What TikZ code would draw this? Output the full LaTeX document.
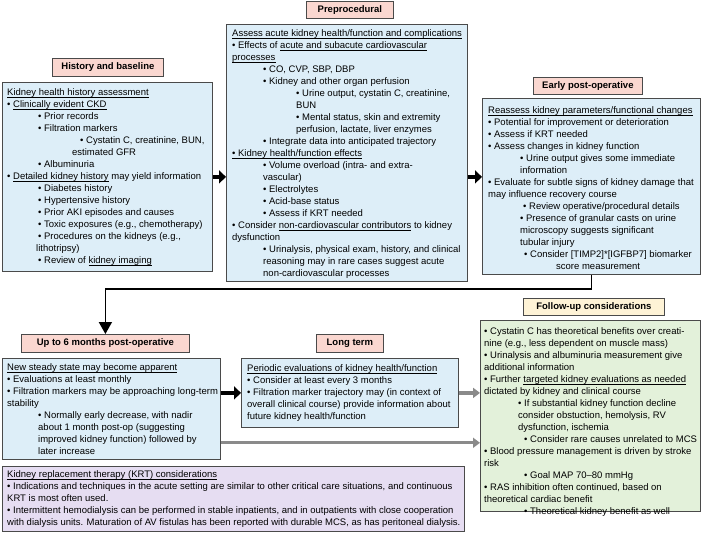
\documentclass[tikz,border=0pt]{standalone}
\usepackage{fontspec}
\setmainfont{Liberation Sans}
\usetikzlibrary{arrows.meta,calc}
\definecolor{boxblue}{HTML}{DDEEF8}
\definecolor{hdrpink}{HTML}{FAD7D0}
\definecolor{hdryellow}{HTML}{FEF3D6}
\definecolor{boxgreen}{HTML}{E3F1DA}
\definecolor{boxpurple}{HTML}{E6DDF2}
\definecolor{edgegray}{HTML}{4A4A4A}
\definecolor{arrgray}{HTML}{8A8A8A}
\newcommand{\bu}{•\ }
\newcommand{\ind}[1]{\hspace*{#1pt}}
\newsavebox{\ulbox}
\newcommand{\ulx}[1]{\sbox{\ulbox}{#1}\rlap{\rule[-1.7pt]{\wd\ulbox}{0.45pt}}\usebox{\ulbox}}
\begin{document}
\begin{tikzpicture}[x=1pt,y=-1pt,
  panel/.style={draw=edgegray, line width=0.8pt, anchor=north west, inner sep=0pt},
  bluebox/.style={panel, fill=boxblue},
  hdr/.style={panel, fill=hdrpink, font=\fontsize{9.5}{12}\selectfont\bfseries},
  body/.style={anchor=north west, inner sep=0pt, align=left, font=\fontsize{9.5}{12}\selectfont},
  blkarrow/.style={line width=4.5pt, -{Triangle[length=7pt,width=13pt]}},
  connector/.style={line width=1.8pt, -{Triangle[length=12pt,width=13pt]}},
  grayarrow/.style={draw=arrgray, line width=3.2pt, -{Triangle[length=7pt,width=10pt]}}
]
\useasboundingbox (0,0) rectangle (701,533);

% headers
\node[hdr, minimum width=111pt, minimum height=18pt] (histhdr) at (52,58) {History and baseline};
\node[hdr, minimum width=87pt, minimum height=17pt] (prehdr) at (306,1) {Preprocedural};
\node[hdr, minimum width=109pt, minimum height=17pt] (earlyhdr) at (533,77) {Early post-operative};
\node[hdr, minimum width=168pt, minimum height=18pt] (sixhdr) at (21,334) {Up to 6 months post-operative};
\node[hdr, minimum width=67pt, minimum height=18pt] (longhdr) at (316,334) {Long term};
\node[hdr, fill=hdryellow, minimum width=141pt, minimum height=17pt] (followhdr) at (523,298) {Follow-up considerations};

% boxes
\node[bluebox, minimum width=210pt, minimum height=189pt] (histbox) at (2,82) {};
\node[bluebox, minimum width=241pt, minimum height=257pt] (prebox) at (226,24) {};
\node[bluebox, minimum width=218pt, minimum height=176pt] (earlybox) at (482,98) {};
\node[bluebox, minimum width=218pt, minimum height=101pt] (sixbox) at (2,358) {};
\node[bluebox, minimum width=217pt, minimum height=69pt] (longbox) at (241,358) {};
\node[panel, fill=boxgreen, minimum width=220pt, minimum height=191pt] (followbox) at (480,320) {};
\node[panel, fill=boxpurple, minimum width=462pt, minimum height=65pt] (krtbox) at (2,466) {};

% texts
\node[body] (histtxt) at (7,87) {\strut\ulx{Kidney health history assessment}\\
\bu\ulx{Clinically evident CKD}\\
\ind{31}\bu Prior records\\
\ind{31}\bu Filtration markers\\
\ind{73}\bu Cystatin C, creatinine, BUN,\\
\ind{65}estimated GFR\\
\ind{31}\bu Albuminuria\\
\bu\ulx{Detailed kidney history} may yield information\\
\ind{31}\bu Diabetes history\\
\ind{31}\bu Hypertensive history\\
\ind{31}\bu Prior AKI episodes and causes\\
\ind{31}\bu Toxic exposures (e.g., chemotherapy)\\
\ind{31}\bu Procedures on the kidneys (e.g.,\\
\ind{29}lithotripsy)\\
\ind{31}\bu Review of \ulx{kidney imaging}};

\node[body] (pretxt) at (232,28) {\strut\ulx{Assess acute kidney health/function and complications}\\
\bu Effects of \ulx{acute and subacute cardiovascular}\\
\ulx{processes}\\
\ind{31}\bu CO, CVP, SBP, DBP\\
\ind{31}\bu Kidney and other organ perfusion\\
\ind{64}\bu Urine output, cystatin C, creatinine,\\
\ind{64}BUN\\
\ind{64}\bu Mental status, skin and extremity\\
\ind{64}perfusion, lactate, liver enzymes\\
\ind{31}\bu Integrate data into anticipated trajectory\\
\ulx{\bu Kidney health/function effects}\\
\ind{31}\bu Volume overload (intra- and extra-\\
\ind{31}vascular)\\
\ind{31}\bu Electrolytes\\
\ind{31}\bu Acid-base status\\
\ind{31}\bu Assess if KRT needed\\
\bu Consider \ulx{non-cardiovascular contributors} to kidney\\
dysfunction\\
\ind{31}\bu Urinalysis, physical exam, history, and clinical\\
\ind{31}reasoning may in rare cases suggest acute\\
\ind{31}non-cardiovascular processes};

\node[body] (earlytxt) at (488,105) {\strut\ulx{Reassess kidney parameters/functional changes}\\
\bu Potential for improvement or deterioration\\
\bu Assess if KRT needed\\
\bu Assess changes in kidney function\\
\ind{32}\bu Urine output gives some immediate\\
\ind{32}information\\
\bu Evaluate for subtle signs of kidney damage that\\
may influence recovery course\\
\ind{35}\bu Review operative/procedural details\\
\ind{32}\bu Presence of granular casts on urine\\
\ind{32}microscopy suggests significant\\
\ind{32}tubular injury\\
\ind{36}\bu Consider [TIMP2]*[IGFBP7] biomarker\\
\ind{68}score measurement};

\node[body] (sixtxt) at (7,362) {\strut\ulx{New steady state may become apparent}\\
\bu Evaluations at least monthly\\
\bu Filtration markers may be approaching long-term\\
stability\\
\ind{31}\bu Normally early decrease, with nadir\\
\ind{31}about 1 month post-op (suggesting\\
\ind{31}improved kidney function) followed by\\
\ind{31}later increase};

\node[body] (longtxt) at (247,363) {\strut\ulx{Periodic evaluations of kidney health/function}\\
\bu Consider at least every 3 months\\
\bu Filtration marker trajectory may (in context of\\
overall clinical course) provide information about\\
future kidney health/function};

\node[body] (followtxt) at (484,326) {\strut\bu Cystatin C has theoretical benefits over creati-\\
nine (e.g., less dependent on muscle mass)\\
\bu Urinalysis and albuminuria measurement give\\
additional information\\
\bu Further \ulx{targeted kidney evaluations as needed}\\
dictated by kidney and clinical course\\
\ind{34}\bu If substantial kidney function decline\\
\ind{34}consider obstuction, hemolysis, RV\\
\ind{34}dysfunction, ischemia\\
\ind{40}\bu Consider rare causes unrelated to MCS\\
\bu Blood pressure management is driven by stroke\\
risk\\
\ind{40}\bu Goal MAP 70–80 mmHg\\
\bu RAS inhibition often continued, based on\\
theoretical cardiac benefit\\
\ind{40}\bu Theoretical kidney benefit as well};

\node[body] (krttxt) at (7,469) {\strut\ulx{Kidney replacement therapy (KRT) considerations}\\
\bu Indications and techniques in the acute setting are similar to other critical care situations, and continuous\\
KRT is most often used.\\
\bu Intermittent hemodialysis can be performed in stable inpatients, and in outpatients with close cooperation\\
with dialysis units. Maturation of AV fistulas has been reported with durable MCS, as has peritoneal dialysis.};

% arrows
\draw[blkarrow] (histbox.east) -- (histbox.east -| prebox.west);
\draw[blkarrow] (prebox.east |- histbox.east) -- (earlybox.west |- histbox.east);
\draw[connector] (earlybox.south) -- ++(0,14) -| (sixhdr.north);
\draw[blkarrow] (sixbox.east |- longbox.west) -- (longbox.west);
\draw[grayarrow] (longbox.east) -- (longbox.east -| followbox.west);
\coordinate (g6) at ($(sixbox.south east)+(0,-17)$);
\draw[grayarrow] (g6) -- (g6 -| followbox.west);
\end{tikzpicture}
\end{document}
